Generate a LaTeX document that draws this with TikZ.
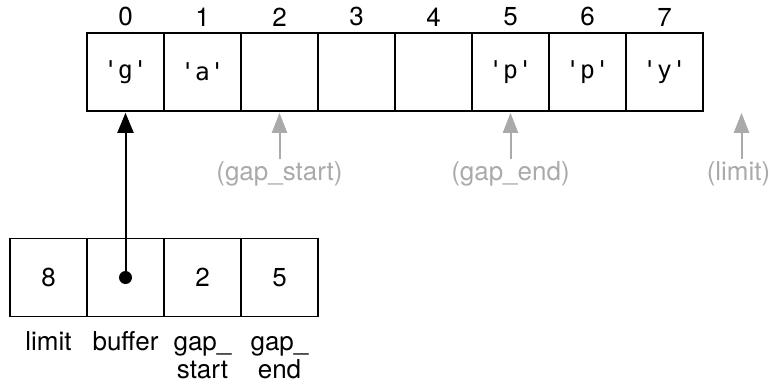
\documentclass[tikz,border=0pt]{standalone}
\usepackage{fontspec}
\setmainfont{TeX Gyre Heros}
\setmonofont{DejaVu Sans Mono}
\usetikzlibrary{arrows.meta, positioning}
\definecolor{hintgray}{HTML}{AAAAAA}
\newcommand{\diagfont}{\fontsize{26}{28}\selectfont}

\begin{document}
\begin{tikzpicture}[x=1pt, y=-1pt, font=\diagfont,
    cell/.style={draw, line width=1.6pt, minimum width=77pt, minimum height=78pt, inner sep=0pt},
    idx/.style={inner sep=0pt},
    hint/.style={inner sep=0pt, text=hintgray},
    hintarrow/.style={hintgray, line width=2pt, -{Triangle[width=15pt,length=20pt]}, shorten >=1pt, shorten <=3pt},
    ptr/.style={line width=2pt, -{Triangle[width=16pt,length=20pt]}, shorten >=1pt},
    fieldname/.style={inner sep=0pt, align=center}]
\useasboundingbox (0,0) rectangle (771,383);

% the buffer with its gap
\foreach \ch [count=\i from 0] in {'g','a',,,,'p','p','y'} {
    \node[cell, font=\ttfamily\fontsize{24.5}{28}\selectfont] (c\i) at (125.5+77*\i,72) {\ch};
    \node[idx, above=6pt of c\i] {\i};
}
\coordinate (c8) at ([xshift=77pt]c7.south);

% where gap_start, gap_end and limit point
\node[hint, below=50pt of c2] (gs) {(gap\_start)};
\node[hint, below=50pt of c5] (ge) {(gap\_end)};
\node[hint, below=50pt of c8, xshift=-3pt] (lim) {(limit)};
\draw[hintarrow] (gs) -- (c2);
\draw[hintarrow] (ge) -- (c5);
\draw[hintarrow] (lim.north -| c8) -- (c8);

% the struct
\node[cell] (flimit) at (48.5,277.5) {8};
\node[cell] (fbuffer) at (125.5,277.5) {};
\node[cell] (fstart) at (202.5,277.5) {2};
\node[cell] (fend) at (279.5,277.5) {5};

\node[fieldname, below=13pt of flimit] {\strut limit};
\node[fieldname, below=13pt of fbuffer] {\strut buffer};
\node[fieldname, below=13pt of fstart] {\strut gap\_\\start};
\node[fieldname, below=13pt of fend] {\strut gap\_\\end};

% buffer pointer
\fill (fbuffer.center) circle[radius=6.5pt];
\draw[ptr] (fbuffer.center) -- (c0);
\end{tikzpicture}
\end{document}
